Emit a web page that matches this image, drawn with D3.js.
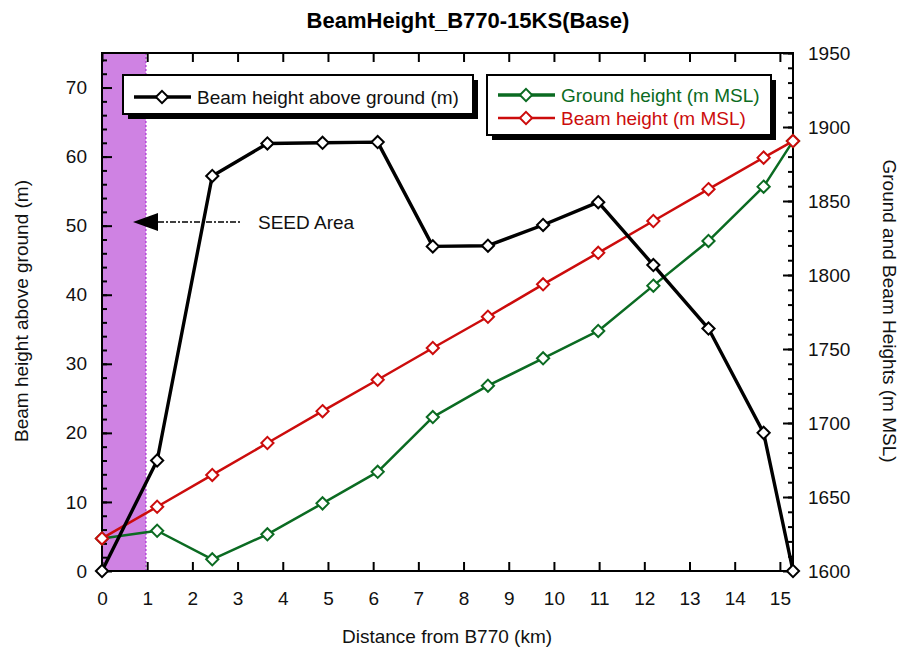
<!DOCTYPE html>
<html><head><meta charset="utf-8">
<script src="https://cdn.jsdelivr.net/npm/d3@7"></script>
<style>body{margin:0;background:#fff}svg{font-family:"Liberation Sans",Arial,sans-serif}</style>
</head><body><svg id="c" width="902" height="650"></svg>
<script>
const distance = [0, 1.22, 2.44, 3.66, 4.88, 6.1, 7.32, 8.54, 9.76, 10.98, 12.2, 13.42, 14.64, 15.29];
const beamAboveGround = [0, 16, 57.2, 61.9, 62, 62.1, 47, 47.1, 50.1, 53.4, 44.3, 35.1, 20, 0];
const groundMSL = [1622, 1627.2, 1607.9, 1624.8, 1645.7, 1667, 1704, 1725.2, 1743.7, 1762.2, 1792.8, 1823, 1859.7, 1890.5];
const beamMSL = [1622, 1643.4, 1664.9, 1686.5, 1708, 1729.2, 1750.7, 1771.8, 1793.7, 1815, 1836.5, 1858, 1879.3, 1890.5];
const xTicks = d3.range(0, 16, 1);
const yLeftTicks = [0, 10, 20, 30, 40, 50, 60, 70];
const yRightTicks = [1600, 1650, 1700, 1750, 1800, 1850, 1900, 1950];
const seedArea = [0, 0.97];

const svg = d3.select("#c");
const L = 102, R = 793, T = 53, B = 571;
const FS = 19;
const x = d3.scaleLinear().domain([0, 15.29]).range([L, R]);
const yL = d3.scaleLinear().domain([0, 75]).range([B, T]);
const yR = d3.scaleLinear().domain([1600, 1950]).range([B, T]);

const BLACK = "#000", GREEN = "#0b6b22", RED = "#cc0c0c";

// SEED area
svg.append("rect").attr("x", x(seedArea[0])).attr("y", T).attr("width", x(seedArea[1]) - x(seedArea[0])).attr("height", B - T).attr("fill", "#cf82e3");
svg.append("line").attr("x1", x(seedArea[1])).attr("x2", x(seedArea[1])).attr("y1", T).attr("y2", B)
  .attr("stroke", "#b548d8").attr("stroke-width", 1.5).attr("stroke-dasharray", "2,2");

function axisG(axis, tx, ty) {
  const g = svg.append("g").attr("transform", `translate(${tx},${ty})`).call(axis);
  g.select(".domain").remove();
  g.selectAll("line").attr("stroke", "#000").attr("stroke-width", 2);
  g.selectAll("text").attr("font-size", FS).attr("fill", "#111").attr("font-family", "Liberation Sans, Arial, sans-serif");
  return g;
}
axisG(d3.axisBottom(x).tickValues(xTicks).tickSize(-9).tickPadding(21).tickFormat(d3.format("d")), 0, B);
axisG(d3.axisTop(x).tickValues(xTicks).tickSize(-9).tickFormat(""), 0, T);
axisG(d3.axisLeft(yL).tickValues(d3.range(0, 76, 2)).tickSize(-5).tickFormat(""), L, 0);
axisG(d3.axisLeft(yL).tickValues(yLeftTicks).tickSize(-10).tickPadding(15).tickFormat(d3.format("d")), L, 0);
axisG(d3.axisRight(yR).tickValues(d3.range(1600, 1951, 10)).tickSize(-5).tickFormat(""), R, 0);
axisG(d3.axisRight(yR).tickValues(yRightTicks).tickSize(-10).tickPadding(15).tickFormat(d3.format("d")), R, 0);

svg.append("rect").attr("x", L).attr("y", T).attr("width", R - L).attr("height", B - T)
  .attr("fill", "none").attr("stroke", "#000").attr("stroke-width", 2);

// titles
svg.append("text").attr("x", 468).attr("y", 28).attr("text-anchor", "middle").attr("font-size", 22)
  .attr("font-weight", "bold").attr("fill", "#000").text("BeamHeight_B770-15KS(Base)");
svg.append("text").attr("x", 447).attr("y", 643).attr("text-anchor", "middle").attr("font-size", FS).attr("fill", "#111")
  .text("Distance from B770 (km)");
svg.append("text").attr("transform", "translate(28,311) rotate(-90)").attr("text-anchor", "middle").attr("font-size", FS).attr("fill", "#111")
  .text("Beam height above ground (m)");
svg.append("text").attr("transform", "translate(883,311) rotate(90)").attr("text-anchor", "middle").attr("font-size", FS).attr("fill", "#111")
  .text("Ground and Beam Heights (m MSL)");

// series
const diamond = d3.symbol().type(d3.symbolDiamond2).size(95);
function series(vals, y, color, w) {
  const pts = distance.map((d, i) => [x(d), y(vals[i])]);
  svg.append("path").attr("d", d3.line()(pts)).attr("fill", "none").attr("stroke", color)
    .attr("stroke-width", w).attr("stroke-linejoin", "round");
  svg.append("g").selectAll("path").data(pts).join("path")
    .attr("transform", p => `translate(${p[0]},${p[1]})`).attr("d", diamond)
    .attr("fill", "#fff").attr("stroke", color).attr("stroke-width", 2);
}
series(groundMSL, yR, GREEN, 2.5);
series(beamMSL, yR, RED, 2.5);
series(beamAboveGround, yL, BLACK, 3.4);

// SEED annotation
svg.append("line").attr("x1", 158).attr("x2", 242).attr("y1", 222).attr("y2", 222)
  .attr("stroke", "#000").attr("stroke-width", 1.5).attr("stroke-dasharray", "6,2,2,2");
svg.append("path").attr("d", "M133,222 L158,213 L158,231 Z").attr("fill", "#000");
svg.append("text").attr("x", 258).attr("y", 229).attr("font-size", FS).attr("fill", "#111").text("SEED Area");

// legends
function legend(x0, y0, w, h, items) {
  svg.append("rect").attr("x", x0 + 5).attr("y", y0 + 5).attr("width", w).attr("height", h).attr("fill", "#000");
  svg.append("rect").attr("x", x0).attr("y", y0).attr("width", w).attr("height", h).attr("fill", "#fff")
    .attr("stroke", "#000").attr("stroke-width", 2);
  items.forEach(it => {
    svg.append("line").attr("x1", x0 + 11).attr("x2", x0 + 68).attr("y1", it.y).attr("y2", it.y)
      .attr("stroke", it.color).attr("stroke-width", it.w);
    svg.append("path").attr("transform", `translate(${x0 + 39},${it.y})`).attr("d", diamond)
      .attr("fill", "#fff").attr("stroke", it.color).attr("stroke-width", 2);
    svg.append("text").attr("x", x0 + 74).attr("y", it.y + 7).attr("font-size", FS).attr("fill", it.text).text(it.label);
  });
}
legend(123, 75, 350, 39, [{y: 97, color: BLACK, text: "#111", w: 3.5, label: "Beam height above ground (m)"}]);
legend(487, 75, 284, 60, [
  {y: 95, color: GREEN, text: GREEN, w: 3.5, label: "Ground height (m MSL)"},
  {y: 118, color: RED, text: RED, w: 2.5, label: "Beam height (m MSL)"}
]);
</script></body></html>
